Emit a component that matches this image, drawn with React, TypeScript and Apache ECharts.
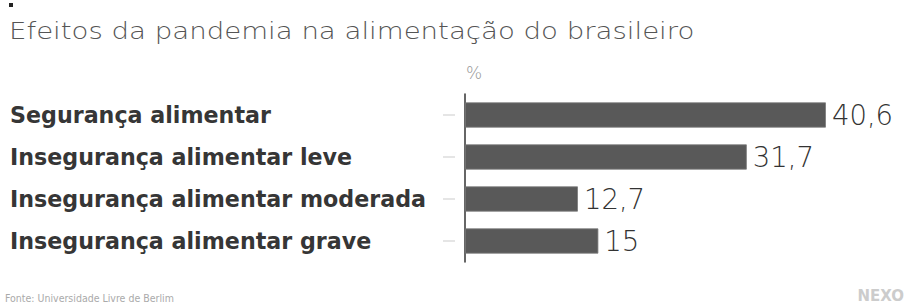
import React, { useEffect, useRef } from "react";
import * as echarts from "echarts";

const categories = [
  "Segurança alimentar",
  "Insegurança alimentar leve",
  "Insegurança alimentar moderada",
  "Insegurança alimentar grave",
];
const values = [40.6, 31.7, 12.7, 15];
const titleText = "Efeitos da pandemia na alimentação do brasileiro";
const unitText = "%";
const sourceText = "Fonte: Universidade Livre de Berlim";
const brandText = "NEXO";

export default function App() {
  const ref = useRef<HTMLDivElement>(null);
  useEffect(() => {
    document.body.style.margin = "0";
    const chart = echarts.init(ref.current!, null, { renderer: "svg" });
    chart.setOption({
      animation: false,
      backgroundColor: "#ffffff",
      textStyle: { fontFamily: "DejaVu Sans" },
      grid: { left: 465, right: 39, top: 94, bottom: 44 },
      xAxis: {
        type: "value",
        min: 0,
        max: 45,
        show: false,
      },
      yAxis: [
        {
          type: "category",
          data: categories,
          inverse: true,
          axisLine: { show: true, lineStyle: { color: "#333333", width: 1.5 } },
          axisTick: { show: false },
          axisLabel: {
            align: "left",
            margin: 455,
            color: "#363636",
            fontSize: 22.2,
            fontWeight: "bold",
            fontFamily: "DejaVu Sans",
          },
        },
        {
          type: "category",
          data: categories,
          inverse: true,
          position: "left",
          offset: 10,
          axisLine: { show: false },
          axisTick: {
            show: true,
            alignWithLabel: true,
            length: 12,
            lineStyle: { color: "#dddddd", width: 1.5 },
          },
          axisLabel: { show: false },
        },
      ],
      series: [
        {
          type: "bar",
          data: values,
          yAxisIndex: 0,
          barCategoryGap: "40%",
          itemStyle: { color: "#595959", borderColor: "#7a7a7a", borderWidth: 0.8 },
          label: {
            show: true,
            position: "right",
            distance: 6,
            color: "#333333",
            fontSize: 27.5,
            fontWeight: 300,
            fontFamily: "DejaVu Sans",
            formatter: (p: any) => String(p.value).replace(".", ","),
          },
        },
      ],
      graphic: [
        { type: "rect", left: 9, top: 3, shape: { width: 4, height: 4 }, style: { fill: "#222" } },
        {
          type: "text",
          x: 9,
          y: 19,
          scaleX: 1.2,
          style: { text: titleText, fill: "#555555", fontSize: 23, fontWeight: 200, fontFamily: "DejaVu Sans" },
        },
        {
          type: "text",
          left: 466,
          top: 64,
          style: { text: unitText, fill: "#999999", fontSize: 17, fontWeight: 200, fontFamily: "DejaVu Sans" },
        },
        {
          type: "text",
          left: 5,
          top: 292,
          style: { text: sourceText, fill: "#aaaaaa", fontSize: 10.5, fontFamily: "DejaVu Sans Condensed" },
        },
        {
          type: "text",
          right: 0,
          top: 288,
          style: { text: brandText, fill: "#cccccc", fontSize: 15, fontWeight: "bold", fontFamily: "DejaVu Sans" },
        },
      ],
    });
    return () => chart.dispose();
  }, []);
  return <div ref={ref} style={{ width: 904, height: 306 }} />;
}
